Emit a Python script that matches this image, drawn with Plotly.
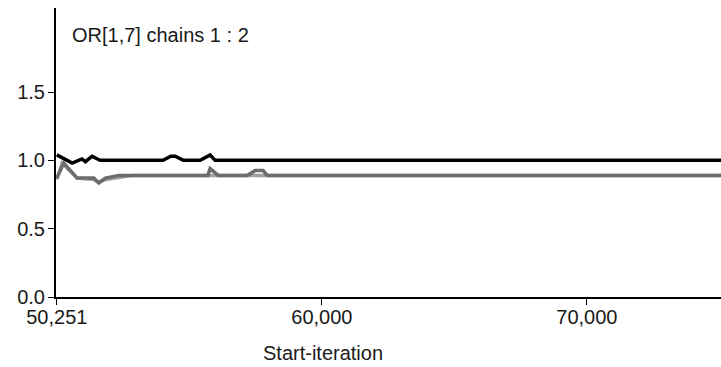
import plotly.graph_objects as go

# ---- data (BGR diagnostic, OR[1,7]) ----
iter_black = [50000, 50580, 50950, 51080, 51330, 51630, 54010, 54300, 54470, 54770,
              55410, 55785, 55974, 75060]
val_black = [1.04, 0.98, 1.01, 0.99, 1.03, 1.00, 1.00, 1.03, 1.03, 1.00,
             1.00, 1.04, 1.00, 1.00]

iter_dark = [50000, 50264, 50766, 51396, 51585, 51834, 52340, 55700, 55785, 56087,
             57182, 57484, 57786, 57937, 75060]
val_dark = [0.87, 0.98, 0.87, 0.87, 0.835, 0.87, 0.89, 0.89, 0.94, 0.89,
            0.89, 0.925, 0.925, 0.89, 0.89]

iter_light = [50000, 50200, 50766, 51396, 51585, 51834, 52340, 52842, 75060]
val_light = [0.86, 0.98, 0.87, 0.86, 0.84, 0.86, 0.875, 0.89, 0.89]

x_tickvals = [50000, 60000, 70000]
x_ticktext = ["50,251", "60,000", "70,000"]
y_tickvals = [0.0, 0.5, 1.0, 1.5]
y_ticktext = ["0.0", "0.5", "1.0", "1.5"]

title_text = "OR[1,7] chains 1 : 2"
x_title = "Start-iteration"

FONT = "Liberation Sans, Arial, Helvetica, sans-serif"
TXT = "#1a1a1a"

fig = go.Figure()
fig.add_trace(go.Scatter(x=iter_light, y=val_light, mode="lines",
                         line=dict(color="#a0a0a0", width=3.5), showlegend=False))
fig.add_trace(go.Scatter(x=iter_dark, y=val_dark, mode="lines",
                         line=dict(color="#6c6c6c", width=3.5), showlegend=False))
fig.add_trace(go.Scatter(x=iter_black, y=val_black, mode="lines",
                         line=dict(color="#000000", width=3.5), showlegend=False))

fig.update_layout(
    width=721, height=367,
    margin=dict(l=56, r=0, t=8, b=70),
    paper_bgcolor="white", plot_bgcolor="white",
    font=dict(family=FONT, size=20, color=TXT),
    xaxis=dict(range=[49970, 75060], tickvals=x_tickvals, ticktext=x_ticktext,
               showgrid=False, zeroline=False, showline=True, linecolor="black",
               linewidth=2, ticks="outside", ticklen=6, tickwidth=1, tickcolor="black",
               ticklabelstandoff=-5,
               tickfont=dict(family=FONT, size=20, color=TXT)),
    yaxis=dict(range=[0, 2.115], tickvals=y_tickvals, ticktext=y_ticktext,
               showgrid=False, zeroline=False, showline=True, linecolor="black",
               linewidth=2, ticks="outside", ticklen=6, tickwidth=1, tickcolor="black",
               ticklabelstandoff=-1,
               tickfont=dict(family=FONT, size=20, color=TXT)),
    annotations=[
        dict(text=title_text, xref="paper", yref="paper", x=0.021, y=0.9066,
             xanchor="left", yanchor="middle", showarrow=False,
             font=dict(family=FONT, size=20, color=TXT)),
        dict(text=x_title, xref="paper", yref="paper", x=0.4008, y=-0.194,
             xanchor="center", yanchor="middle", showarrow=False,
             font=dict(family=FONT, size=20, color=TXT)),
    ],
)

fig.write_html("out.html")
